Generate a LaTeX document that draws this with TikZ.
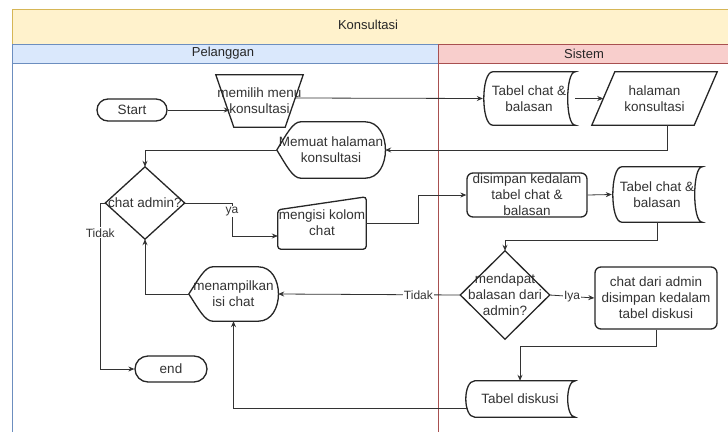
\documentclass[tikz,border=0pt]{standalone}
\usepackage{fontspec}
\setmainfont{Liberation Sans}
\usetikzlibrary{arrows.meta,calc}
\definecolor{txt}{HTML}{333333}
\definecolor{titlefill}{HTML}{FFF2CC}
\definecolor{titledraw}{HTML}{D6B656}
\definecolor{bluefill}{HTML}{DAE8FC}
\definecolor{bluedraw}{HTML}{6C8EBF}
\definecolor{redfill}{HTML}{F8CECC}
\definecolor{reddraw}{HTML}{A85050}
\tikzset{
  lbl/.style={fill=white, inner sep=1pt, font=\fontsize{12}{14}\selectfont, text=txt},
  box/.style={rectangle, inner sep=0pt, align=center, font=\fontsize{13.5}{16}\selectfont, text=txt},
  shp/.style={draw=black!85, line width=1.3pt},
  conn/.style={draw=black!80, line width=0.8pt},
  arr/.style={conn, -{Stealth[length=6pt,width=5pt]}},
  hdr/.style={font=\fontsize{13}{15}\selectfont, text=black!85},
}
\newcommand\drawStored[1]{\draw[shp] ([xshift=10pt]#1.north west) -- (#1.north east) .. controls ([xshift=-10pt]#1.north east) and ([xshift=-10pt]#1.south east) .. (#1.south east) -- ([xshift=10pt]#1.south west) .. controls ([xshift=-2pt]#1.south west) and ([xshift=-2pt]#1.north west) .. ([xshift=10pt]#1.north west) -- cycle;}
\newcommand\drawDisplay[1]{\draw[shp] (#1.west) .. controls ([xshift=10pt,yshift=-12pt]#1.north west) and ([xshift=16pt]#1.north west) .. ([xshift=24pt]#1.north west) -- ([xshift=-20pt]#1.north east) .. controls ([xshift=7pt]#1.north east) and ([xshift=7pt]#1.south east) .. ([xshift=-20pt]#1.south east) -- ([xshift=24pt]#1.south west) .. controls ([xshift=16pt]#1.south west) and ([xshift=10pt,yshift=12pt]#1.south west) .. (#1.west) -- cycle;}
\newcommand\drawDiamond[1]{\draw[shp] (#1.north) -- (#1.east) -- (#1.south) -- (#1.west) -- cycle;}
\newcommand\drawManOp[1]{\draw[shp] (#1.north west) -- (#1.north east) -- ([xshift=-18pt]#1.south east) -- ([xshift=18pt]#1.south west) -- cycle;}
\newcommand\drawParal[1]{\draw[shp] ([xshift=23pt]#1.north west) -- (#1.north east) -- ([xshift=-23pt]#1.south east) -- (#1.south west) -- cycle;}
\newcommand\drawManIn[1]{\draw[shp, rounded corners=3pt] ([yshift=-13pt]#1.north west) -- (#1.north east) -- (#1.south east) -- (#1.south west) -- cycle;}
\begin{document}
\begin{tikzpicture}[x=1pt,y=-1pt]
\useasboundingbox (0,0) rectangle (728,431);
\fill[white] (0,0) rectangle (728,431);
% swimlanes
\draw[draw=bluedraw, line width=0.7pt] (12,63) rectangle (438,445);
\draw[draw=reddraw, line width=0.7pt] (438,63) rectangle (745,445);
\draw[fill=titlefill, draw=titledraw, line width=0.7pt] (12,9) rectangle (745,44);
\draw[fill=bluefill, draw=bluedraw, line width=0.7pt] (12,44) rectangle (438,63);
\draw[fill=redfill, draw=reddraw, line width=0.7pt] (438,44) rectangle (745,63);
\node[hdr] (title) at (368,25) {Konsultasi};
\node[hdr] (pel) at (223,53.5) {Pelanggan};
\node[hdr] (sis) at (584,53.5) {Sistem};

% nodes
\node[box, shp, rounded corners=11pt, minimum width=70pt, minimum height=22pt] (start) at (132,110) {Start};
\node[box, minimum width=87pt, minimum height=52pt] (memilih) at (259.5,101) {memilih menu\\konsultasi};
\drawManOp{memilih}
\node[box, minimum width=92pt, minimum height=53pt] (tc1) at (529,98.5) {Tabel chat \&\\balasan};
\drawStored{tc1}
\node[box, minimum width=125pt, minimum height=53pt] (halaman) at (654.5,98.5) {halaman\\konsultasi};
\drawParal{halaman}
\node[box, minimum width=108pt, minimum height=56pt] (memuat) at (331,150) {Memuat halaman\\konsultasi};
\drawDisplay{memuat}
\node[box, minimum width=79pt, minimum height=72pt] (ca) at (145,203) {chat admin?};
\drawDiamond{ca}
\node[box, minimum width=88pt, minimum height=52pt] (mengisi) at (322,223) {mengisi kolom\\chat};
\drawManIn{mengisi}
\node[box, shp, rounded corners=6pt, minimum width=120pt, minimum height=44pt] (simpan) at (527,195) {disimpan kedalam\\tabel chat \&\\balasan};
\node[box, minimum width=90pt, minimum height=55pt] (tc2) at (657,194.5) {Tabel chat \&\\balasan};
\drawStored{tc2}
\node[box, minimum width=89pt, minimum height=88pt] (md) at (505,295) {mendapat\\balasan dari\\admin?};
\drawDiamond{md}
\node[box, shp, rounded corners=6pt, minimum width=122pt, minimum height=62pt] (cdb) at (656,298) {chat dari admin\\disimpan kedalam\\tabel diskusi};
\node[box, minimum width=89pt, minimum height=54pt] (tampil) at (233.5,294) {menampilkan\\isi chat};
\drawDisplay{tampil}
\node[box, minimum width=110pt, minimum height=36pt] (td) at (520,399) {Tabel diskusi};
\drawStored{td}
\node[box, shp, rounded corners=13pt, minimum width=72pt, minimum height=26pt] (end) at (171,369) {end};

% connectors
\draw[arr] (start.east) -- ([xshift=14pt,yshift=-9pt]memilih.west);
\draw[arr] ([xshift=-8pt,yshift=3pt]memilih.east) -- (tc1.west);
\draw[arr] (tc1.east) -- ([xshift=11.5pt]halaman.west);
\draw[arr] ([xshift=13pt]halaman.south) |- (memuat.east);
\draw[arr] (memuat.west) -| (ca.north);
\coordinate (ya) at (232,203);
\draw[arr] (ca.east) -- (ya) |- node[lbl, pos=0.13] {ya} ([yshift=-13pt]mengisi.west);
\draw[arr] (mengisi.east) -- ++(52,0) |- (simpan.west);
\draw[arr] (simpan.east) -- (tc2.west);
\draw[arr] (tc2.south) -- ++(0,18) -| (md.north);
\draw[arr] (md.east) -- node[lbl] {Iya} (cdb.west);
\draw[arr] (md.west) -- node[lbl, pos=0.23] {Tidak} (tampil.east);
\draw[arr] (tampil.west) -| (ca.south);
\draw[arr] (cdb.south) -- ++(0,17) -| (td.north);
\draw[arr] ([xshift=3pt,yshift=-9pt]td.west) -| (tampil.south);
\draw[arr] (ca.west) -- ++(-5,0) |- node[lbl, pos=0.09] {Tidak} (end.west);
\end{tikzpicture}
\end{document}
